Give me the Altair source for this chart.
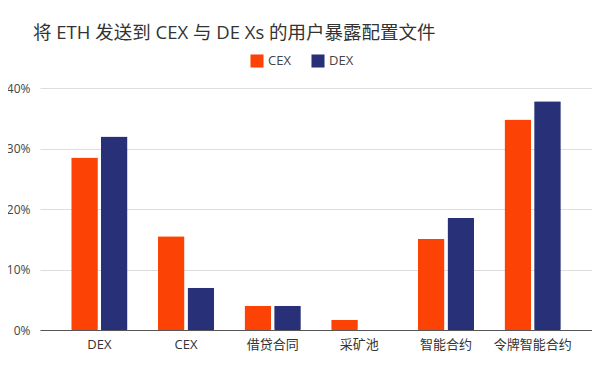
import altair as alt
import pandas as pd

categories = ["DEX", "CEX", "借贷合同", "采矿池", "智能合约", "令牌智能合约"]
cex_values = [28.5, 15.5, 4.0, 1.7, 15.1, 34.8]
dex_values = [32.0, 7.0, 4.0, 0.0, 18.5, 37.8]
series = ["CEX", "DEX"]
colors = ["#fc4305", "#283178"]

rows = []
for c, a, b in zip(categories, cex_values, dex_values):
    rows.append({"category": c, "series": "CEX", "value": a / 100})
    rows.append({"category": c, "series": "DEX", "value": b / 100})
df = pd.DataFrame(rows)

FONT = "Open Sans, Noto Sans CJK SC"

chart = alt.Chart(df).mark_bar(cornerRadius=1).encode(
    x=alt.X("category:N", sort=categories,
            scale=alt.Scale(paddingInner=0.35, paddingOuter=0.36),
            axis=alt.Axis(title=None, labelAngle=0, ticks=False, domain=True,
                          domainColor="#555", labelFontSize=13, labelColor="#333",
                          labelPadding=8, labelFont=FONT)),
    xOffset=alt.XOffset("series:N", sort=series, scale=alt.Scale(paddingInner=0.1)),
    y=alt.Y("value:Q", scale=alt.Scale(domain=[0, 0.4]),
            axis=alt.Axis(title=None, format=".0%", values=[0, 0.1, 0.2, 0.3, 0.4],
                          ticks=False, domain=False, gridColor="#dddddd",
                          labelFontSize=12, labelColor="#444", labelPadding=10,
                          labelFont=FONT)),
    color=alt.Color("series:N", sort=series,
                    scale=alt.Scale(domain=series, range=colors),
                    legend=alt.Legend(title=None, orient="none", direction="horizontal",
                                      legendX=210, legendY=-34, symbolType="square",
                                      symbolSize=170, labelFontSize=13, labelColor="#444",
                                      labelFont=FONT, columnPadding=20, symbolStrokeWidth=0)),
).properties(
    width=552,
    height=242,
    padding={"left": 32, "top": 80, "right": 0, "bottom": 40},
    autosize=alt.AutoSizeParams(type="none"),
    title=alt.TitleParams("将 ETH 发送到 CEX 与 DE Xs 的用户暴露配置文件", anchor="start",
                          frame="group", dx=-7, offset=12, fontSize=18.5,
                          fontWeight="normal", color="#333", font=FONT),
).configure_view(stroke=None)

chart.save("out.html", embed_options={"renderer": "svg", "actions": False})
